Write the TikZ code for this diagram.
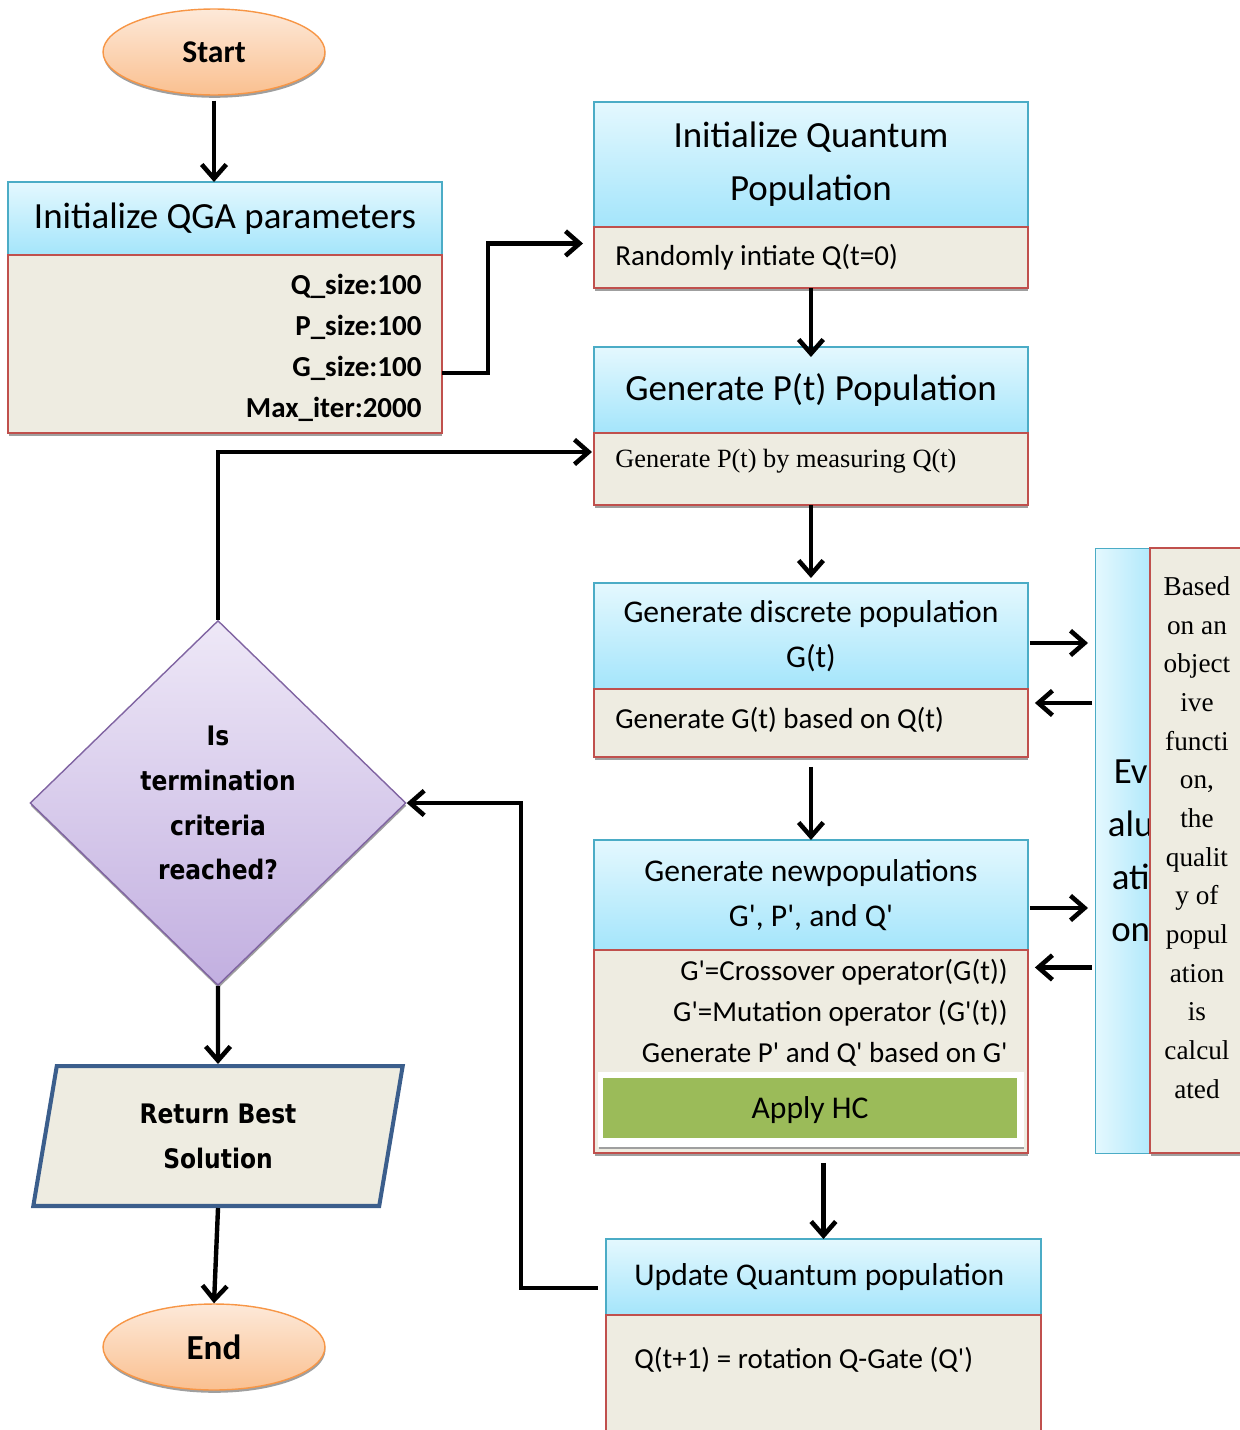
\documentclass[tikz,border=0pt]{standalone}
\usepackage{fontspec}
\setmainfont{Carlito}[Ligatures=TeXOff]
\newfontfamily\serifface{Liberation Serif}[Ligatures=TeXOff]
\newfontfamily\deciface{DejaVu Sans}[FakeStretch=0.87]
\usetikzlibrary{arrows.meta,shapes.geometric,shadows,calc}

\definecolor{hdrtop}{HTML}{E4F8FE}
\definecolor{hdrbot}{HTML}{A4E5FB}
\definecolor{hdrline}{HTML}{4BACC6}
\definecolor{bdyfill}{HTML}{EEECE1}
\definecolor{bdyline}{HTML}{C0504D}
\definecolor{dmtop}{HTML}{EEE8F7}
\definecolor{dmbot}{HTML}{C2AFE0}
\definecolor{dmline}{HTML}{8064A2}
\definecolor{ovtop}{HTML}{FDE9D9}
\definecolor{ovbot}{HTML}{FAC090}
\definecolor{ovline}{HTML}{F79646}
\definecolor{hcfill}{HTML}{9BBB59}
\definecolor{retline}{HTML}{3B5E8C}

\begin{document}
\begin{tikzpicture}[x=0.02cm, y=-0.02cm,
    flow/.style={line width=2.5pt, -{Straight Barb[length=8pt, width=14pt, line width=2.6pt]}},
    boxshade/.style={drop shadow={shadow xshift=0.3pt, shadow yshift=-1.6pt, fill=gray!75, opacity=1}},
    txtbig/.style={font=\fontsize{21}{30}\selectfont},
    txtmid/.style={font=\fontsize{18}{25.5}\selectfont},
    txtsmall/.style={font=\fontsize{16.5}{23.3}\selectfont},
    hdr/.style={draw=hdrline, line width=0.8pt, top color=hdrtop, bottom color=hdrbot,
        minimum width=8.68cm, inner sep=0pt, outer sep=0pt, anchor=north west, align=center},
    bdy/.style={draw=bdyline, line width=0.8pt, fill=bdyfill, minimum width=8.68cm,
        inner sep=0pt, outer sep=0pt, anchor=north west, boxshade},
    term/.style={ellipse, draw=ovline, line width=0.8pt, top color=ovtop, bottom color=ovbot,
        minimum width=4.44cm, minimum height=1.72cm, inner sep=0pt, boxshade,
        font=\bfseries\fontsize{18}{22}\selectfont},
    deci/.style={align=center, inner sep=0pt, font=\deciface\bfseries\fontsize{15.3}{25.5}\selectfont}]

    \useasboundingbox (0,0) rectangle (1240,1430);
    \clip (0,0) rectangle (1240,1430);

    % --- 1. Start and QGA parameters ---
    \node[term] (start) at (214,52) {Start};
    \node[hdr, txtbig, minimum height=1.46cm] (qgahead) at (8,182) {Initialize QGA parameters};
    \node[bdy, minimum height=3.56cm] (qgabody) at (qgahead.south west) {};
    \node[anchor=east, inner sep=0pt, align=right, font=\bfseries\fontsize{16.5}{23.3}\selectfont]
        (qgatext) at ($(qgabody.east)+(-20,4)$) {Q\_size:100\\P\_size:100\\G\_size:100\\Max\_iter:2000};

    % --- 2. Quantum population and P(t) ---
    \node[hdr, txtbig, minimum height=2.5cm] (iqhead) at (594,102) {Initialize Quantum\\Population};
    \node[bdy, minimum height=1.22cm] (iqbody) at (iqhead.south west) {};
    \node[anchor=west, inner sep=0pt, txtsmall] (iqtext) at ($(iqbody.west)+(21,0)$) {Randomly intiate Q(t=0)};

    \node[hdr, txtbig, minimum height=1.72cm] (gphead) at (594,347) {Generate P(t) Population};
    \node[bdy, minimum height=1.44cm] (gpbody) at (gphead.south west) {};
    \node[anchor=west, inner sep=0pt, font=\serifface\fontsize{15}{18}\selectfont]
        (gptext) at ($(gpbody.north west)+(21,28)$) {Generate P(t) by measuring Q(t)};

    % --- 3. Discrete and new populations ---
    \node[hdr, txtmid, minimum height=2.12cm] (gdhead) at (594,583) {Generate discrete population\\G(t)};
    \node[bdy, minimum height=1.36cm] (gdbody) at (gdhead.south west) {};
    \node[anchor=west, inner sep=0pt, txtsmall] (gdtext) at ($(gdbody.west)+(21,-3)$) {Generate G(t) based on Q(t)};

    \node[hdr, txtmid, minimum height=2.2cm] (nphead) at (594,840) {Generate newpopulations\\G', P', and Q'};
    \node[bdy, minimum height=4.06cm] (npbody) at (nphead.south west) {};
    \node[anchor=east, inner sep=0pt, align=right, txtsmall] (npops) at ($(npbody.north east)+(-20,63)$)
        {G'=Crossover operator(G(t))\\G'=Mutation operator (G'(t))\\Generate P' and Q' based on G'};
    \node[fill=white, minimum width=8.52cm, minimum height=1.5cm, inner sep=0pt, boxshade]
        (hcframe) at (811,1109) {};
    \node[fill=hcfill, minimum width=8.28cm, minimum height=1.2cm, inner sep=0pt, txtmid,
        text height=16pt, text depth=4pt] (hc) at (810,1108) {Apply HC};

    % --- 4. Evaluation ---
    \node[draw=hdrline, line width=0.8pt, left color=hdrtop, right color=hdrbot, minimum width=1.4cm,
        minimum height=12.1cm, inner sep=0pt, anchor=north west, align=center, txtbig]
        (evhead) at (1095,548) {Ev\\alu\\ati\\on};
    \node[bdy, minimum width=1.88cm, minimum height=12.1cm] (evbody) at (1150,548) {};
    \node[align=center, inner sep=0pt, font=\serifface\fontsize{15.5}{22}\selectfont]
        (evtext) at ($(evbody.center)+(0,-13)$)
        {Based\\on an\\object\\ive\\functi\\on,\\the\\qualit\\y of\\popul\\ation\\is\\calcul\\ated};

    % --- 5. Quantum update ---
    \node[hdr, txtmid, minimum width=8.7cm, minimum height=1.52cm] (uphead) at (606,1239) {};
    \node[anchor=west, inner sep=0pt, txtmid] (uptitle) at ($(uphead.west)+(28,0)$) {Update Quantum population};
    \node[bdy, minimum width=8.7cm, minimum height=2.6cm] (upbody) at (uphead.south west) {};
    \node[anchor=west, inner sep=0pt, txtsmall] (uptext) at ($(upbody.north west)+(28,45)$)
        {Q(t+1) = rotation Q-Gate (Q')};

    % --- 6. Decision, result and end ---
    \node[diamond, draw=dmline, line width=0.8pt, top color=dmtop, bottom color=dmbot,
        minimum width=7.52cm, minimum height=7.3cm, deci, boxshade] (check) at (218,803)
        {Is\\termination\\criteria\\reached?};
    \node[trapezium, trapezium left angle=80, trapezium right angle=100, trapezium stretches=true,
        draw=retline, line width=2.3pt, fill=bdyfill, minimum width=7.4cm, minimum height=2.8cm, deci]
        (ret) at (218,1136) {Return Best\\Solution};
    \node[term, font=\bfseries\fontsize{20}{24}\selectfont] (stop) at (214,1347) {End};

    % --- 7. Connectors ---
    \draw[flow] (start.south) ++(0,5) -- (start.south |- qgahead.north);
    \draw[flow] ($(qgabody.east)+(0,29)$) -- ++(46,0) |- ($(iqbody.west)+(-11,-14)$);
    \draw[flow] (iqbody.south) -- ($(gphead.north)+(0,10)$);
    \draw[flow] (check.north) |- ($(gpbody.west)+(-2,-17)$);
    \draw[flow] (gpbody.south) -- ($(gdhead.north)+(0,-5)$);
    \draw[flow] ($(gdhead.east)+(2,7)$) -- ($(gdhead.east -| evhead.west)+(-7,7)$);
    \draw[flow] ($(gdbody.east -| evhead.west)+(-3,-20)$) -- ($(gdbody.east)+(7,-20)$);
    \draw[flow] (gdbody.south) ++(0,10) -- (nphead.north);
    \draw[flow] ($(nphead.east)+(2,13)$) -- ($(nphead.east -| evhead.west)+(-7,13)$);
    \draw[flow] ($(npbody.east -| evhead.west)+(-3,-84)$) -- ($(npbody.east)+(7,-84)$);
    \draw[flow] (npbody.south -| uphead.north) ++(0,10) -- (uphead.north);
    \draw[flow] ($(uphead.west)+(-8,11)$) -- ++(-77,0) |- (check.east);
    \draw[flow] (check.south) -- (ret.north);
    \draw[flow] (ret.south) -- (stop.north);

\end{tikzpicture}
\end{document}
